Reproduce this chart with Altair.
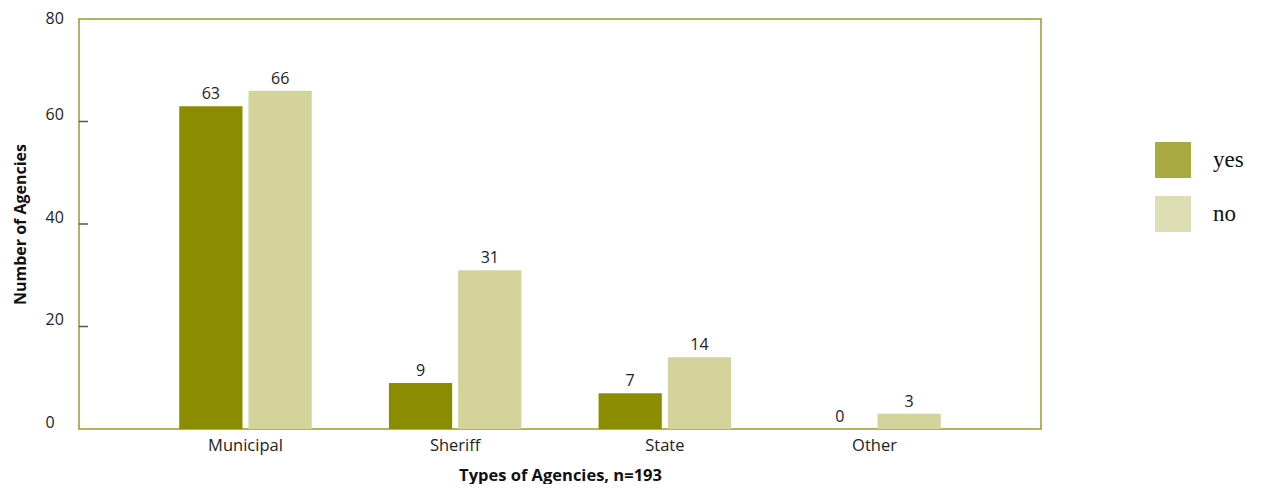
import altair as alt
import pandas as pd

categories = ["Municipal", "Sheriff", "State", "Other"]
yes_values = [63, 9, 7, 0]
no_values = [66, 31, 14, 3]
groups = ["yes", "no"]
y_ticks = [20, 40, 60]

rows = []
for c, y, n in zip(categories, yes_values, no_values):
    rows.append({"type": c, "answer": "yes", "count": y})
    rows.append({"type": c, "answer": "no", "count": n})
df = pd.DataFrame(rows)
ticks_df = pd.DataFrame({"v": y_ticks})

FONT = "Open Sans"
x_enc = alt.X(
    "type:N", sort=categories,
    scale=alt.Scale(paddingInner=0.368, paddingOuter=0.478),
    axis=alt.Axis(title="Types of Agencies, n=193", labelAngle=0, ticks=False, domain=False,
                  labelFont=FONT, labelFontSize=16.5, labelColor="#222222", labelPadding=8,
                  titleFont=FONT, titleFontSize=16.5, titleFontWeight="bold", titleColor="#111111",
                  titleY=46, titleBaseline="middle"),
)
xoff = alt.XOffset("answer:N", sort=groups, scale=alt.Scale(paddingInner=0.087, paddingOuter=0))
color = alt.Color(
    "answer:N", sort=groups,
    scale=alt.Scale(domain=groups, range=["#8c8c00", "#d3d39b"]),
    legend=alt.Legend(title=None, orient="none", legendX=1076, legendY=123, padding=0,
                      symbolType="square", symbolSize=1296, symbolStrokeWidth=0,
                      symbolOpacity=0.74, rowPadding=18, labelOffset=22,
                      labelFont="Liberation Serif", labelFontSize=23, labelColor="#111111"),
)
y_enc = alt.Y(
    "count:Q", scale=alt.Scale(domain=[0, 80], nice=False),
    axis=alt.Axis(title="Number of Agencies", values=[0, 20, 40, 60, 80], ticks=False,
                  domain=False, grid=False, labelAlign="left", labelPadding=34,
                  labelBaseline="alphabetic",
                  labelOffset={"condition": {"test": "datum.value == 80", "value": 4}, "value": -2},
                  labelFont=FONT, labelFontSize=16, labelColor="#222222",
                  titleFont=FONT, titleFontSize=16, titleFontWeight="bold", titleColor="#111111",
                  titleX=-59, titleY=205, titleBaseline="middle", titleAngle=-90),
)

bars = alt.Chart(df).mark_bar().encode(x=x_enc, xOffset=xoff, y=y_enc, color=color)
labels = alt.Chart(df).mark_text(baseline="bottom", dy=-4, font=FONT, fontSize=16, color="#222222").encode(
    x=alt.X("type:N", sort=categories), xOffset=alt.XOffset("answer:N", sort=groups),
    y="count:Q", text="count:Q")
tick_marks = alt.Chart(ticks_df).mark_rule(color="#555555", strokeWidth=1.5).encode(
    y="v:Q", x=alt.value(0), x2=alt.value(9))

chart = alt.layer(bars, labels, tick_marks).properties(
    width=962, height=410,
    autosize=alt.AutoSizeParams(type="none"),
    padding={"left": 71, "top": 11, "right": 210, "bottom": 55},
).configure_view(stroke="#9a9a2a", strokeWidth=1.5)

chart.save("out.html", embed_options={"renderer": "svg", "actions": False})
